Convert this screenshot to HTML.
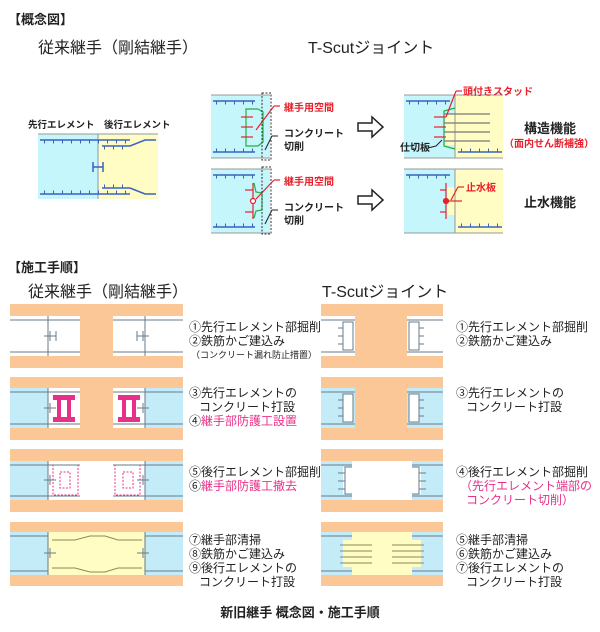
<!DOCTYPE html>
<html><head><meta charset="utf-8"><style>
body{margin:0;background:#fff}
svg{display:block}
text{font-family:"Liberation Sans","Noto Sans CJK JP",sans-serif;fill:#222}
.r{fill:#e8202a}.p{fill:#e8308a}
.tk{stroke:#3a62c0;stroke-width:3;stroke-dasharray:1,8}
.tg{stroke:#6a7a8a;stroke-width:3;stroke-dasharray:1,6}
</style></head><body>
<svg width="600" height="632" viewBox="0 0 600 632" xmlns="http://www.w3.org/2000/svg">
<text x="8" y="24" font-size="13" font-weight="bold">【概念図】</text>
<text x="38" y="53" font-size="16">従来継手（剛結継手）</text>
<text x="308" y="53" font-size="16">T-Scutジョイント</text>

<!-- left concept -->
<text x="28" y="128" font-size="9.5" font-weight="bold">先行エレメント</text>
<text x="104" y="128" font-size="9.5" font-weight="bold">後行エレメント</text>
<rect x="38" y="134" width="60" height="65" fill="#c4f6fc"/>
<rect x="98" y="134" width="60" height="65" fill="#fffcc4"/>
<line x1="38" y1="134" x2="158" y2="134" stroke="#999"/>
<line x1="98" y1="134" x2="98" y2="199" stroke="#7a9ac0"/>
<g stroke="#3a62c0" stroke-width="1.5" fill="none">
<line x1="40" y1="140" x2="130" y2="140"/><line x1="40" y1="194" x2="130" y2="194"/>
<polyline points="102,146 130,146 145,140 156,140"/><polyline points="102,188 130,188 145,194 156,194"/>
<line x1="93" y1="167" x2="103" y2="167"/><line x1="93" y1="162" x2="93" y2="172"/><line x1="103" y1="162" x2="103" y2="172"/>
</g>
<line x1="44" y1="142" x2="130" y2="142" class="tk"/><line x1="44" y1="192" x2="130" y2="192" class="tk"/>
<line x1="104" y1="148" x2="130" y2="148" class="tk"/><line x1="104" y1="186" x2="130" y2="186" class="tk"/>

<!-- top-right diagrams -->
<g>
<rect x="211" y="95" width="59" height="63" fill="#c4f6fc"/><line x1="211" y1="95" x2="270" y2="95" stroke="#999"/><line x1="211" y1="158" x2="270" y2="158" stroke="#999"/>
<line x1="213" y1="101" x2="255" y2="101" stroke="#3a62c0" stroke-width="1.5"/><line x1="213" y1="152" x2="255" y2="152" stroke="#3a62c0" stroke-width="1.5"/>
<line x1="216" y1="103" x2="255" y2="103" class="tk"/><line x1="216" y1="150" x2="255" y2="150" class="tk"/>
<polyline points="258,109 246,109 246,146 258,146 263,142 263,112 258,109" fill="none" stroke="#20b040" stroke-width="1.2"/>
<g stroke="#e8202a" stroke-width="1.2"><line x1="241" y1="117" x2="253" y2="117"/><line x1="241" y1="127" x2="253" y2="127"/><line x1="241" y1="137" x2="253" y2="137"/><line x1="256" y1="130" x2="274" y2="106"/><line x1="274" y1="106" x2="280" y2="106"/></g>
<rect x="262" y="93" width="9" height="67" fill="none" stroke="#333" stroke-dasharray="2,1.5"/>
<polyline points="265,150 272,136 278,136" fill="none" stroke="#222"/>
<text x="284" y="111" font-size="10" font-weight="bold" class="r">継手用空間</text>
<text x="284" y="137" font-size="10" font-weight="bold">コンクリート</text>
<text x="284" y="150" font-size="10" font-weight="bold">切削</text>

<rect x="211" y="169" width="59" height="64" fill="#c4f6fc"/><line x1="211" y1="169" x2="270" y2="169" stroke="#999"/><line x1="211" y1="233" x2="270" y2="233" stroke="#999"/>
<line x1="213" y1="175" x2="255" y2="175" stroke="#3a62c0" stroke-width="1.5"/><line x1="213" y1="227" x2="255" y2="227" stroke="#3a62c0" stroke-width="1.5"/>
<line x1="216" y1="177" x2="255" y2="177" class="tk"/><line x1="216" y1="225" x2="255" y2="225" class="tk"/>
<polyline points="254,183 256,192 262,193 262,210 256,211 254,218" fill="none" stroke="#20b040" stroke-width="1.2"/>
<g stroke="#e8202a" stroke-width="1.2" fill="none"><line x1="253" y1="183" x2="253" y2="219"/><line x1="245" y1="190" x2="253" y2="190"/><line x1="245" y1="212" x2="253" y2="212"/><circle cx="253" cy="201" r="2.5" fill="#fff"/><line x1="256" y1="199" x2="274" y2="180"/><line x1="274" y1="180" x2="280" y2="180"/></g>
<rect x="262" y="167" width="9" height="67" fill="none" stroke="#333" stroke-dasharray="2,1.5"/>
<polyline points="265,224 272,210 278,210" fill="none" stroke="#222"/>
<text x="284" y="185" font-size="10" font-weight="bold" class="r">継手用空間</text>
<text x="284" y="211" font-size="10" font-weight="bold">コンクリート</text>
<text x="284" y="224" font-size="10" font-weight="bold">切削</text>

<polygon points="358,123 372,123 372,117 383,127 372,137 372,131 358,131" fill="#fff" stroke="#222" stroke-width="1.5"/>
<polygon points="358,196 372,196 372,190 383,200 372,210 372,204 358,204" fill="#fff" stroke="#222" stroke-width="1.5"/>

<rect x="404" y="95" width="99" height="63" fill="#fffcc4"/>
<polygon points="404,95 455,95 455,114 445,114 445,145 455,145 455,158 404,158" fill="#c4f6fc"/>
<line x1="404" y1="95" x2="503" y2="95" stroke="#999"/><line x1="404" y1="158" x2="503" y2="158" stroke="#999"/>
<line x1="455" y1="95" x2="455" y2="158" stroke="#999"/>
<line x1="406" y1="101" x2="450" y2="101" stroke="#3a62c0" stroke-width="1.5"/><line x1="458" y1="152" x2="502" y2="152" stroke="#3a62c0" stroke-width="1.5"/>
<line x1="409" y1="103" x2="450" y2="103" class="tk"/><line x1="461" y1="150" x2="502" y2="150" class="tk"/>
<polyline points="455,108 444,111 444,146 455,149" fill="none" stroke="#20b040" stroke-width="1.2"/>
<g stroke="#777" stroke-width="1.2"><line x1="444" y1="114" x2="490" y2="114"/><line x1="444" y1="123" x2="490" y2="123"/><line x1="444" y1="132" x2="490" y2="132"/><line x1="444" y1="141" x2="490" y2="141"/></g>
<g stroke="#e8202a" stroke-width="1.2"><line x1="434" y1="117" x2="446" y2="117"/><line x1="434" y1="127" x2="446" y2="127"/><line x1="434" y1="137" x2="446" y2="137"/><line x1="446" y1="117" x2="456" y2="91"/><line x1="456" y1="91" x2="462" y2="91"/></g>
<polyline points="428,148 436,146 442,140" fill="none" stroke="#222"/>
<text x="463" y="95" font-size="10" font-weight="bold" class="r">頭付きスタッド</text>
<text x="400" y="151" font-size="10" font-weight="bold">仕切板</text>
<text x="524" y="133" font-size="13" font-weight="bold">構造機能</text>
<text x="504" y="147" font-size="10" font-weight="bold" class="r">（面内せん断補強）</text>

<rect x="404" y="169" width="99" height="64" fill="#fffcc4"/>
<polygon points="404,169 455,169 455,187 447,187 447,215 455,215 455,233 404,233" fill="#c4f6fc"/>
<line x1="404" y1="169" x2="503" y2="169" stroke="#999"/><line x1="404" y1="233" x2="503" y2="233" stroke="#999"/>
<line x1="455" y1="169" x2="455" y2="233" stroke="#999"/>
<line x1="406" y1="175" x2="450" y2="175" stroke="#3a62c0" stroke-width="1.5"/><line x1="458" y1="227" x2="502" y2="227" stroke="#3a62c0" stroke-width="1.5"/>
<line x1="409" y1="177" x2="450" y2="177" class="tk"/><line x1="461" y1="225" x2="502" y2="225" class="tk"/>
<g stroke="#e8202a" stroke-width="1.2" fill="none"><line x1="446" y1="183" x2="446" y2="219"/><line x1="440" y1="190" x2="446" y2="190"/><line x1="440" y1="212" x2="446" y2="212"/><line x1="446" y1="201" x2="462" y2="201"/><circle cx="446" cy="201" r="2.5" fill="#e8202a"/><line x1="451" y1="200" x2="458" y2="187"/><line x1="458" y1="187" x2="464" y2="187"/></g>
<text x="466" y="191" font-size="10" font-weight="bold" class="r">止水板</text>
<text x="524" y="207" font-size="13" font-weight="bold">止水機能</text>
</g>

<text x="8" y="272" font-size="13" font-weight="bold">【施工手順】</text>
<text x="28" y="297" font-size="16">従来継手（剛結継手）</text>
<text x="322" y="297" font-size="16">T-Scutジョイント</text>

<!-- left procedure -->
<g>
<rect x="10" y="304" width="173" height="64" fill="#fbc797"/>
<rect x="10" y="316" width="70" height="40" fill="#fff"/><rect x="113" y="316" width="70" height="40" fill="#fff"/>
<rect x="10" y="377" width="173" height="63" fill="#fbc797"/>
<rect x="10" y="388" width="38" height="40" fill="#c4ecf8"/><rect x="48" y="388" width="32" height="40" fill="#fff"/>
<rect x="145" y="388" width="38" height="40" fill="#c4ecf8"/><rect x="113" y="388" width="32" height="40" fill="#fff"/>
<g fill="#e8308a"><rect x="53" y="395" width="22" height="5"/><rect x="53" y="417" width="22" height="5"/><rect x="57" y="400" width="4" height="17"/><rect x="67" y="400" width="4" height="17"/>
<rect x="118" y="395" width="22" height="5"/><rect x="118" y="417" width="22" height="5"/><rect x="122" y="400" width="4" height="17"/><rect x="132" y="400" width="4" height="17"/></g>
<rect x="10" y="449" width="173" height="63" fill="#fbc797"/>
<rect x="10" y="461" width="173" height="39" fill="#c4ecf8"/><rect x="48" y="461" width="97" height="39" fill="#fff"/>
<g fill="none" stroke="#e8308a" stroke-dasharray="2,1.5"><rect x="53" y="465" width="25" height="30"/><rect x="60" y="472" width="10" height="16"/><rect x="115" y="465" width="25" height="30"/><rect x="123" y="472" width="10" height="16"/></g>
<rect x="10" y="522" width="173" height="64" fill="#fbc797"/>
<rect x="10" y="532" width="173" height="43" fill="#c4ecf8"/><rect x="48" y="532" width="97" height="43" fill="#fffcc4"/>
<g stroke="#8a8a5a" fill="none"><polyline points="52,540 75,540 90,536 105,536 118,540 142,540"/><polyline points="52,568 75,568 90,572 105,572 118,568 142,568"/></g>
<g stroke="#6a7a8a" stroke-width="1" fill="none">
<line x1="10" y1="320" x2="80" y2="320"/><line x1="10" y1="352" x2="80" y2="352"/><line x1="113" y1="320" x2="183" y2="320"/><line x1="113" y1="352" x2="183" y2="352"/>
<line x1="48" y1="316" x2="48" y2="356"/><line x1="145" y1="316" x2="145" y2="356"/>
<line x1="10" y1="392" x2="80" y2="392"/><line x1="10" y1="424" x2="80" y2="424"/><line x1="113" y1="392" x2="183" y2="392"/><line x1="113" y1="424" x2="183" y2="424"/>
<line x1="48" y1="388" x2="48" y2="428"/><line x1="145" y1="388" x2="145" y2="428"/>
<line x1="10" y1="465" x2="80" y2="465"/><line x1="10" y1="496" x2="80" y2="496"/><line x1="113" y1="465" x2="183" y2="465"/><line x1="113" y1="496" x2="183" y2="496"/>
<line x1="48" y1="461" x2="48" y2="500"/><line x1="145" y1="461" x2="145" y2="500"/>
<line x1="10" y1="536" x2="48" y2="536"/><line x1="10" y1="571" x2="48" y2="571"/><line x1="145" y1="536" x2="183" y2="536"/><line x1="145" y1="571" x2="183" y2="571"/>
<line x1="48" y1="532" x2="48" y2="575"/><line x1="145" y1="532" x2="145" y2="575"/>
<path d="M44,336h12M50,331v10M56,331v10M137,336h12M143,331v10M137,331v10M44,408h12M50,403v10M137,408h12M143,403v10M44,480h12M50,475v10M137,480h12M143,475v10M44,553h12M50,548v10M137,553h12M143,548v10"/>
</g>
<g font-size="12">
<text x="189" y="331">①先行エレメント部掘削</text>
<text x="189" y="345">②鉄筋かご建込み</text>
<text x="191" y="358" font-size="9">（コンクリート漏れ防止措置）</text>
<text x="189" y="397">③先行エレメントの</text>
<text x="199" y="411">コンクリート打設</text>
<text x="189" y="425"><tspan>④</tspan><tspan class="p">継手部防護工設置</tspan></text>
<text x="189" y="476">⑤後行エレメント部掘削</text>
<text x="189" y="490"><tspan>⑥</tspan><tspan class="p">継手部防護工撤去</tspan></text>
<text x="189" y="544">⑦継手部清掃</text>
<text x="189" y="558">⑧鉄筋かご建込み</text>
<text x="189" y="572">⑨後行エレメントの</text>
<text x="199" y="586">コンクリート打設</text>
</g>
</g>

<!-- right procedure -->
<g>
<rect x="321" y="304" width="122" height="64" fill="#fbc797"/>
<rect x="321" y="316" width="34" height="40" fill="#fff"/><rect x="407" y="316" width="36" height="40" fill="#fff"/>
<rect x="321" y="377" width="122" height="63" fill="#fbc797"/>
<rect x="321" y="388" width="34" height="40" fill="#c4ecf8"/><rect x="407" y="388" width="36" height="40" fill="#c4ecf8"/>
<rect x="343" y="394" width="10" height="28" fill="#fff" stroke="#6a7a8a"/><rect x="409" y="394" width="10" height="28" fill="#fff" stroke="#6a7a8a"/>
<rect x="321" y="449" width="122" height="63" fill="#fbc797"/>
<rect x="321" y="461" width="122" height="39" fill="#c4ecf8"/><rect x="352" y="461" width="60" height="39" fill="#fff"/>
<rect x="343" y="467" width="10" height="27" fill="#fff"/><rect x="411" y="467" width="10" height="27" fill="#fff"/>
<rect x="321" y="522" width="122" height="64" fill="#fbc797"/>
<rect x="321" y="532" width="122" height="43" fill="#c4ecf8"/><rect x="352" y="532" width="60" height="43" fill="#fffcc4"/><rect x="343" y="540" width="78" height="27" fill="#fffcc4"/>
<g stroke="#6a7a8a" fill="none">
<rect x="343" y="322" width="10" height="28"/><rect x="409" y="322" width="10" height="28"/>
<line x1="321" y1="320" x2="355" y2="320"/><line x1="321" y1="352" x2="355" y2="352"/><line x1="407" y1="320" x2="443" y2="320"/><line x1="407" y1="352" x2="443" y2="352"/>
<line x1="321" y1="392" x2="355" y2="392"/><line x1="321" y1="424" x2="355" y2="424"/><line x1="407" y1="392" x2="443" y2="392"/><line x1="407" y1="424" x2="443" y2="424"/>
<line x1="321" y1="465" x2="352" y2="465"/><line x1="321" y1="496" x2="352" y2="496"/><line x1="412" y1="465" x2="443" y2="465"/><line x1="412" y1="496" x2="443" y2="496"/>
<polyline points="352,467 345,467 345,494 352,494"/><polyline points="412,467 419,467 419,494 412,494"/>
<line x1="321" y1="536" x2="352" y2="536"/><line x1="321" y1="571" x2="352" y2="571"/><line x1="412" y1="536" x2="443" y2="536"/><line x1="412" y1="571" x2="443" y2="571"/>
<path d="M338,328h5M338,336h5M338,344h5M419,328h5M419,336h5M419,344h5M338,400h5M338,408h5M338,416h5M419,400h5M419,408h5M419,416h5M338,473h7M338,481h7M338,489h7M419,473h7M419,481h7M419,489h7"/>
</g>
<g stroke="#8a8a5a"><line x1="340" y1="545" x2="372" y2="545"/><line x1="340" y1="551" x2="372" y2="551"/><line x1="340" y1="557" x2="372" y2="557"/><line x1="340" y1="563" x2="372" y2="563"/><line x1="392" y1="545" x2="424" y2="545"/><line x1="392" y1="551" x2="424" y2="551"/><line x1="392" y1="557" x2="424" y2="557"/><line x1="392" y1="563" x2="424" y2="563"/></g>
<g font-size="12">
<text x="456" y="331">①先行エレメント部掘削</text>
<text x="456" y="345">②鉄筋かご建込み</text>
<text x="456" y="397">③先行エレメントの</text>
<text x="466" y="411">コンクリート打設</text>
<text x="456" y="476">④後行エレメント部掘削</text>
<text x="460" y="490" class="p">（先行エレメント端部の</text>
<text x="466" y="504" class="p">コンクリート切削）</text>
<text x="456" y="544">⑤継手部清掃</text>
<text x="456" y="558">⑥鉄筋かご建込み</text>
<text x="456" y="572">⑦後行エレメントの</text>
<text x="466" y="586">コンクリート打設</text>
</g>
</g>

<text x="300" y="617" font-size="13" font-weight="bold" text-anchor="middle">新旧継手 概念図・施工手順</text>
</svg>
</body></html>
